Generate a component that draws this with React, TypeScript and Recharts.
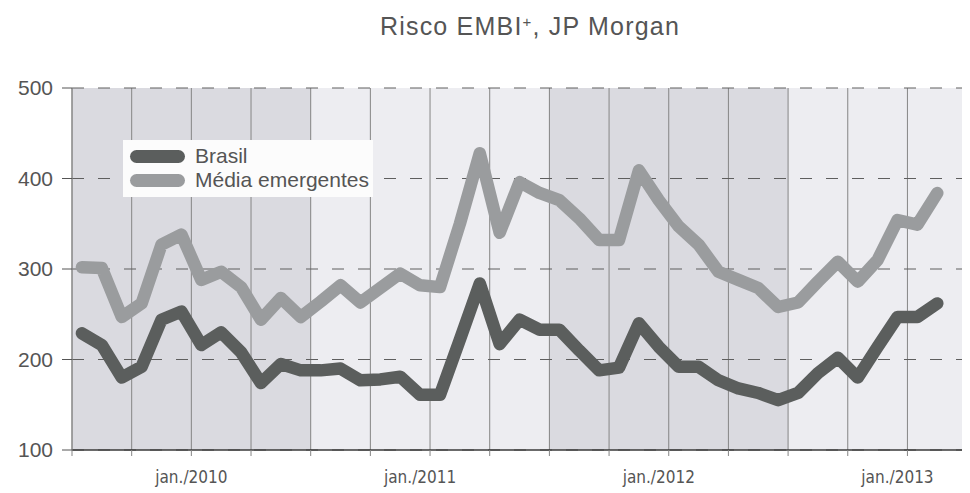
import React from "react";
import { CartesianGrid, Legend, Line, LineChart, XAxis, YAxis } from "recharts";

// monthly spread, basis points
const months = [
  "jul./2009", "ago./2009", "set./2009", "out./2009", "nov./2009", "dez./2009",
  "jan./2010", "fev./2010", "mar./2010", "abr./2010", "mai./2010", "jun./2010",
  "jul./2010", "ago./2010", "set./2010", "out./2010", "nov./2010", "dez./2010",
  "jan./2011", "fev./2011", "mar./2011", "abr./2011", "mai./2011", "jun./2011",
  "jul./2011", "ago./2011", "set./2011", "out./2011", "nov./2011", "dez./2011",
  "jan./2012", "fev./2012", "mar./2012", "abr./2012", "mai./2012", "jun./2012",
  "jul./2012", "ago./2012", "set./2012", "out./2012", "nov./2012", "dez./2012",
  "jan./2013", "fev./2013",
];

const brasil = [
  229, 216, 180, 192, 244, 253, 216, 230, 208, 174, 195, 188,
  188, 190, 177, 178, 181, 161, 161, 222, 284, 217, 244, 233,
  233, 210, 188, 191, 240, 214, 192, 192, 177, 168, 163, 155,
  163, 185, 202, 180, 214, 247, 247, 262,
];

const mediaEmergentes = [
  302, 301, 247, 262, 327, 338, 288, 297, 280, 244, 268, 247,
  264, 282, 263, 279, 295, 282, 280, 350, 428, 340, 396, 384,
  376, 356, 332, 332, 409, 376, 347, 327, 297, 288, 279, 258,
  263, 286, 308, 286, 310, 354, 349, 384,
];

const yTicks = [100, 200, 300, 400, 500];
const quarterTicks = [
  -0.5, 2.5, 5.5, 8.5, 11.5, 14.5, 17.5, 20.5, 23.5, 26.5, 29.5, 32.5, 35.5, 38.5, 41.5, 44.5,
];
const yearTicks = [5.5, 17, 29, 41];
const yearLabels = ["jan./2010", "jan./2011", "jan./2012", "jan./2013"];

const BRASIL = "#5b5e5d";
const MEDIA = "#9a9c9e";
const TEXT = "#555";
const DARK_BAND = "#dadae0";
const LIGHT_BAND = "#ededf1";
const stripes = [DARK_BAND, DARK_BAND, DARK_BAND, DARK_BAND, LIGHT_BAND, LIGHT_BAND, LIGHT_BAND, LIGHT_BAND];

const data = months.map((m, i) => ({
  idx: i,
  month: m,
  brasil: brasil[i],
  media: mediaEmergentes[i],
}));

const FONT = '"Liberation Sans", Arial, Helvetica, sans-serif';
const NARROW = '"Liberation Sans Narrow", "DejaVu Sans Condensed", "Roboto Condensed", sans-serif';

function LegendBox({ payload }: any) {
  return (
    <div
      style={{
        background: "#fcfcfc",
        width: 250,
        height: 57,
        boxSizing: "border-box",
        padding: "4px 0 0 7px",
        fontFamily: FONT,
      }}
    >
      {(payload ?? []).map((p: any) => (
        <div key={p.value} style={{ display: "flex", alignItems: "center", height: 24 }}>
          <span
            style={{ width: 55, height: 13, borderRadius: 7, background: p.color, marginRight: 10 }}
          />
          <span style={{ fontSize: 21, color: TEXT, lineHeight: "24px" }}>{p.value}</span>
        </div>
      ))}
    </div>
  );
}

export default function App() {
  return (
    <div style={{ position: "relative", width: 962, height: 485, overflow: "hidden", fontFamily: FONT }}>
      <div
        style={{
          position: "absolute",
          left: 272,
          top: 6,
          width: 500,
          textAlign: "center",
          fontSize: 25,
          lineHeight: "25px",
          color: TEXT,
          letterSpacing: 1.2,
          whiteSpace: "nowrap",
        }}
      >
        Risco EMBI<sup style={{ fontSize: 15, verticalAlign: "top", lineHeight: "15px" }}>+</sup>, JP Morgan
      </div>

      <LineChart
        width={980}
        height={485}
        data={data}
        margin={{ top: 80, right: 1, bottom: 0, left: 0 }}
      >
        <CartesianGrid
          xAxisId="months"
          horizontal={false}
          stroke="#858585"
          verticalFill={stripes}
          fillOpacity={1}
        />
        <CartesianGrid xAxisId="months" vertical={false} stroke="#5e5e5e" strokeDasharray="12 14" />

        <XAxis
          xAxisId="months"
          dataKey="idx"
          type="number"
          domain={[-0.5, 45.5]}
          ticks={quarterTicks}
          height={10}
          tickSize={6}
          tickLine={{ stroke: "#858585" }}
          axisLine={{ stroke: "#3a3a3a", strokeWidth: 1.5 }}
          tickFormatter={() => ""}
        />
        <XAxis
          xAxisId="years"
          dataKey="idx"
          type="number"
          domain={[-0.5, 45.5]}
          ticks={yearTicks}
          height={33}
          tickSize={6}
          tickMargin={5}
          tickLine={false}
          axisLine={false}
          tickFormatter={(v: number) => yearLabels[yearTicks.indexOf(v)] ?? ""}
          tick={{ fill: TEXT, fontSize: 17, fontFamily: NARROW }}
        />
        <YAxis
          type="number"
          domain={[100, 500]}
          ticks={yTicks}
          width={64}
          tickSize={10}
          tickMargin={9}
          tickLine={{ stroke: TEXT }}
          axisLine={{ stroke: "#858585" }}
          tick={{ fill: TEXT, fontSize: 21, fontFamily: FONT }}
        />

        <Legend
          layout="vertical"
          align="center"
          verticalAlign="middle"
          content={<LegendBox />}
          wrapperStyle={{ left: 115, top: 132, width: 250 }}
        />

        <Line
          xAxisId="months"
          name="Brasil"
          dataKey="brasil"
          type="linear"
          stroke={BRASIL}
          strokeWidth={12.5}
          strokeLinejoin="round"
          strokeLinecap="round"
          dot={false}
          activeDot={false}
          isAnimationActive={false}
        />
        <Line
          xAxisId="months"
          name="Média emergentes"
          dataKey="media"
          type="linear"
          stroke={MEDIA}
          strokeWidth={12.5}
          strokeLinejoin="round"
          strokeLinecap="round"
          dot={false}
          activeDot={false}
          isAnimationActive={false}
        />
      </LineChart>
    </div>
  );
}
